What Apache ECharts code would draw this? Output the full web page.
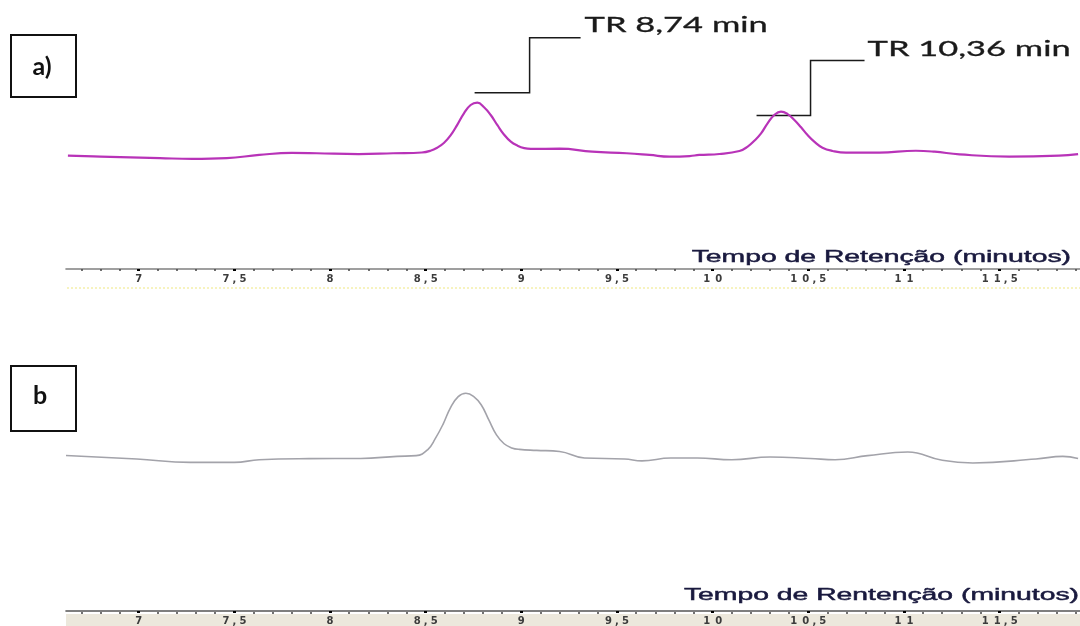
<!DOCTYPE html>
<html>
<head>
<meta charset="utf-8">
<script src="https://cdn.jsdelivr.net/npm/echarts@6/dist/echarts.min.js"></script>
<style>
  html, body { margin: 0; padding: 0; background: #ffffff; }
  #chart { width: 1080px; height: 626px; }
</style>
</head>
<body>
<div id="chart"></div>
<script>
// Chromatogram a) — retention time (min) and detector signal
const retentionA = [6.63, 6.80, 7.11, 7.28, 7.46, 7.63, 7.80, 7.93, 8.15, 8.33, 8.48,
  8.525, 8.56, 8.595, 8.63, 8.665, 8.70, 8.735, 8.77, 8.805, 8.84, 8.875, 8.91, 8.945, 8.98, 9.015, 9.05,
  9.20, 9.37, 9.55, 9.67, 9.775, 9.88, 9.93, 10.035,
  10.14, 10.183, 10.218, 10.253, 10.287, 10.322, 10.357, 10.392, 10.427, 10.462, 10.496, 10.531, 10.574, 10.627, 10.697,
  10.871, 11.062, 11.16, 11.29, 11.55, 11.81, 11.91];
const signalA = [59.9, 59.4, 58.6, 58.2, 58.6, 60.3, 61.4, 61.2, 60.7, 61.2, 61.6,
  62.5, 64.1, 66.6, 70.6, 76.2, 82.3, 86.7, 87.9, 85.5, 81.4, 76.0, 71.0, 67.3, 65.2, 63.9, 63.5,
  63.6, 62.0, 61.2, 60.3, 59.4, 59.7, 60.3, 60.8,
  62.4, 64.7, 67.8, 71.7, 77.0, 81.4, 83.2, 81.9, 78.8, 74.9, 70.8, 67.3, 64.1, 62.4, 61.5,
  61.5, 62.5, 62.0, 60.6, 59.4, 59.9, 60.7];

// Chromatogram b
const retentionB = [6.62, 6.99, 7.27, 7.50, 7.63, 7.89, 8.16, 8.35, 8.45,
  8.51, 8.55, 8.59, 8.63, 8.67, 8.71, 8.75, 8.79, 8.83, 8.87, 8.91, 8.95, 8.99,
  9.08, 9.20, 9.33, 9.54, 9.63, 9.78, 9.92, 10.10, 10.30, 10.51, 10.64, 10.81, 11.02, 11.20, 11.36, 11.69, 11.83, 11.91];
const signalB = [82.6, 80.7, 78.9, 78.9, 80.3, 80.9, 81.0, 82.1, 82.5,
  85.6, 91.5, 99.0, 108.0, 113.8, 115.6, 114.0, 109.5, 101.5, 93.5, 88.8, 86.6, 85.8,
  85.3, 84.7, 81.2, 80.7, 79.7, 81.2, 81.2, 80.3, 81.8, 81.0, 80.3, 82.5, 84.4, 80.0, 78.6, 80.7, 82.1, 81.0];

// Axis ticks (labelled every 0.5 min, small ticks every 0.1 min)
const majorTicks = [7, 7.5, 8, 8.5, 9, 9.5, 10, 10.5, 11, 11.5];
const minorTicks = [];
for (let k = 67; k <= 119; k++) {
  if (k % 5 !== 0) minorTicks.push(k / 10);
}

// Texts
const axisTitles = ['Tempo de Retenção (minutos)', 'Tempo de Rentenção (minutos)'];
const panelTags = ['a)', 'b'];
const peakLabels = [
  { rt: 8.74, text: 'TR 8,74 min' },
  { rt: 10.36, text: 'TR 10,36 min' }
];

const X_MIN = 6.62, X_MAX = 11.92;

const chart = echarts.init(document.getElementById('chart'), null, { renderer: 'canvas' });

function pairs(xs, ys) { return xs.map((x, i) => [x, ys[i]]); }

// Tick labels use a decimal comma and wide character cells
function tickLabel(v) {
  return String(v).replace('.', ',').split('')
    .map(ch => ch === ',' ? '{c|,}' : '{d|' + ch + '}').join('');
}
const tickFont = { fontSize: 10, fontWeight: 'bold', fontFamily: 'DejaVu Sans', color: '#3c3c3c' };
const tickRich = {
  d: Object.assign({ width: 12, align: 'center' }, tickFont),
  c: Object.assign({ width: 5, align: 'center' }, tickFont)
};

function mainAxis(grid, lineColor) {
  return {
    type: 'value', gridIndex: grid, min: X_MIN, max: X_MAX,
    axisLine: { show: true, onZero: false, lineStyle: { color: lineColor, width: 1.6 } },
    axisTick: { show: true, customValues: majorTicks, length: 2, lineStyle: { color: '#000', width: 3 } },
    axisLabel: { show: true, customValues: majorTicks, margin: 5, formatter: tickLabel, rich: tickRich },
    splitLine: { show: false }
  };
}
function minorAxis(grid) {
  return {
    type: 'value', gridIndex: grid, min: X_MIN, max: X_MAX,
    axisLine: { show: false },
    axisTick: { show: true, customValues: minorTicks, length: 2, lineStyle: { color: '#444', width: 1.5 } },
    axisLabel: { show: false },
    splitLine: { show: false }
  };
}
function hiddenY(grid) {
  return { type: 'value', gridIndex: grid, min: 0, max: 120, show: false, splitLine: { show: false } };
}

const gridA = { left: 66, width: 1015, top: 42, height: 227 };
const gridB = { left: 66, width: 1015, top: 385, height: 227 };

const titleStyle = { font: '16px "Liberation Sans"', fill: '#19193e', stroke: '#19193e', lineWidth: 0.45, textAlign: 'right', textVerticalAlign: 'middle' };

const staticGraphics = [
  // pale band under the lower axis
  { type: 'rect', z: -10, shape: { x: 66, y: 614, width: 1014, height: 12 }, style: { fill: '#ece8dc' } },
  // faint yellow rule under the upper axis labels
  { type: 'line', z: -10, shape: { x1: 67, y1: 288, x2: 1080, y2: 288 }, style: { stroke: '#efe880', lineWidth: 1.2, lineDash: [2, 2] } },
  // panel tags
  { type: 'rect', shape: { x: 11, y: 35, width: 65, height: 62 }, style: { fill: '#fff', stroke: '#111', lineWidth: 2 } },
  { type: 'text', x: 42, y: 67, style: { text: panelTags[0], font: 'bold 25px Lato', fill: '#111', textAlign: 'center', textVerticalAlign: 'middle' } },
  { type: 'rect', shape: { x: 11, y: 366, width: 65, height: 65 }, style: { fill: '#fff', stroke: '#111', lineWidth: 2 } },
  { type: 'text', x: 40, y: 396, style: { text: panelTags[1], font: 'bold 25px Lato', fill: '#111', textAlign: 'center', textVerticalAlign: 'middle' } },
  // axis titles, stretched horizontally
  { type: 'text', x: 1071, y: 258, scaleX: 1.77, style: Object.assign({ text: axisTitles[0] }, titleStyle) },
  { type: 'text', x: 1079, y: 596, scaleX: 1.77, style: Object.assign({ text: axisTitles[1] }, titleStyle) }
];

chart.setOption({
  animation: false,
  backgroundColor: '#ffffff',
  grid: [gridA, gridB, gridA, gridB],
  xAxis: [mainAxis(0, '#808080'), mainAxis(1, '#555555'), minorAxis(2), minorAxis(3)],
  yAxis: [hiddenY(0), hiddenY(1), hiddenY(2), hiddenY(3)],
  series: [
    {
      name: 'a', type: 'line', xAxisIndex: 0, yAxisIndex: 0,
      data: pairs(retentionA, signalA), smooth: 0.45, symbol: 'none',
      lineStyle: { color: '#b833b8', width: 2.2 }, z: 3
    },
    {
      name: 'b', type: 'line', xAxisIndex: 1, yAxisIndex: 1,
      data: pairs(retentionB, signalB), smooth: 0.45, symbol: 'none',
      lineStyle: { color: '#a3a3aa', width: 1.6 }, z: 3
    }
  ],
  graphic: { elements: staticGraphics }
});

// Peak annotations: leader lines hang off the apex near each stated retention time
const leaderLayout = [
  { path: [[3, -10], [58, -10], [58, -65], [109, -65]], text: [113, -77] },
  { path: [[-25, 4], [29, 4], [29, -51], [83, -51]], text: [86, -62] }
];
const annotationGraphics = peakLabels.map((p, i) => {
  let apex = -Infinity;
  retentionA.forEach((t, j) => { if (Math.abs(t - p.rt) <= 0.1 && signalA[j] > apex) apex = signalA[j]; });
  const a = chart.convertToPixel({ gridIndex: 0 }, [p.rt, apex]);
  const lay = leaderLayout[i];
  return [
    { type: 'polyline', shape: { points: lay.path.map(o => [a[0] + o[0], a[1] + o[1]]) }, style: { stroke: '#1a1a1a', lineWidth: 1.5, fill: null } },
    { type: 'text', x: a[0] + lay.text[0], y: a[1] + lay.text[1], scaleX: 1.64,
      style: { text: p.text, font: '21px Lato', fill: '#1a1a1a', stroke: '#1a1a1a', lineWidth: 0.3, textAlign: 'left', textVerticalAlign: 'middle' } }
  ];
}).flat();

chart.setOption({ graphic: { elements: staticGraphics.concat(annotationGraphics) } }, { replaceMerge: ['graphic'] });
</script>
</body>
</html>
